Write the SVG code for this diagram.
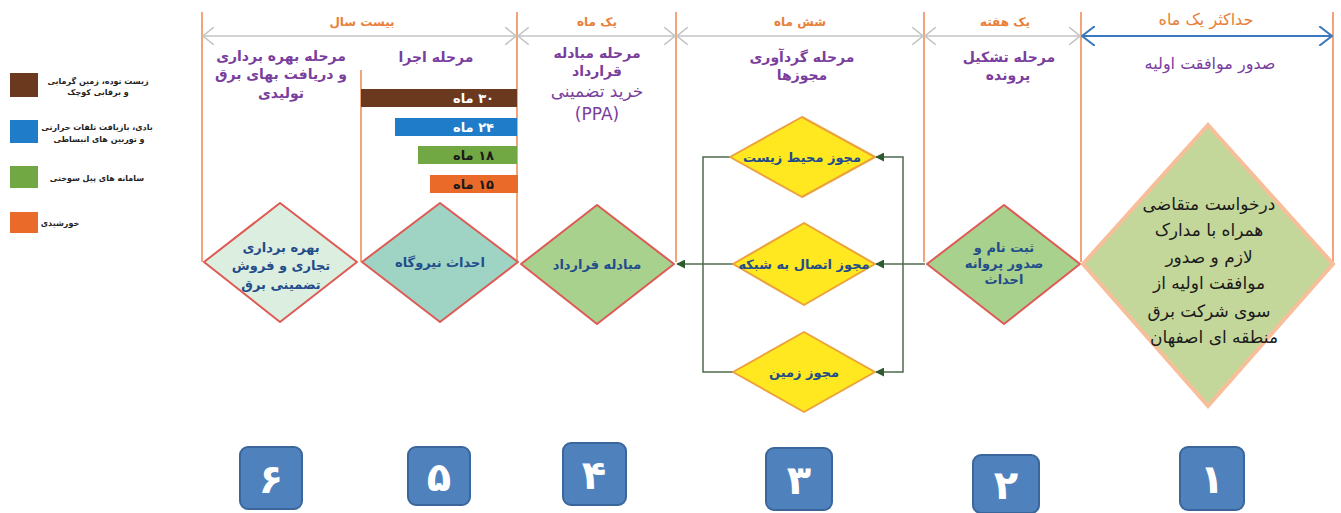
<svg xmlns="http://www.w3.org/2000/svg" width="1341" height="513" viewBox="0 0 1341 513">
<style>
text{font-family:"DejaVu Sans","Noto Sans",sans-serif;direction:rtl;text-anchor:middle}
.div{stroke:#F2A57A;stroke-width:2;fill:none}
.dim{stroke:#C4C4C4;stroke-width:1.5;fill:none}
.dimb{stroke:#3C78BE;stroke-width:2;fill:none}
.hdr{fill:#E8803A;font-size:12px;font-weight:bold}
.ttl{fill:#7A3E9D;font-size:14px;font-weight:bold}
.ttl2{fill:#7A3E9D;font-size:17px}
.dtx{fill:#234C8A;font-size:13px;font-weight:bold}
.leg{fill:#222;font-size:8px;font-weight:bold}
.bar{font-size:13px;font-weight:bold}
.con{stroke:#4E6B4E;stroke-width:1.5;fill:none}
.dia{stroke:#DD5A55;stroke-width:2;stroke-linejoin:round}
.ydia{fill:#FFE81F;stroke:#EBA23C;stroke-width:2;stroke-linejoin:round}
.num{fill:#4F81BD;stroke:#3A669C;stroke-width:2}
.numt{fill:#fff;font-size:40px;font-weight:bold}
</style>
<defs>
<marker id="chev" viewBox="0 0 12 18" refX="11" refY="9" markerWidth="12" markerHeight="18" markerUnits="userSpaceOnUse" orient="auto-start-reverse">
<path d="M0,0 L11,9 L0,18" fill="none" stroke="#C4C4C4" stroke-width="1.5"/>
</marker>
<marker id="chevb" viewBox="0 0 14 20" refX="13" refY="10" markerWidth="14" markerHeight="20" markerUnits="userSpaceOnUse" orient="auto-start-reverse">
<path d="M0,0 L13,10 L0,20" fill="none" stroke="#3C78BE" stroke-width="2"/>
</marker>
<marker id="tri" viewBox="0 0 10 10" refX="9" refY="5" markerWidth="9" markerHeight="9" markerUnits="userSpaceOnUse" orient="auto">
<path d="M0,0 L10,5 L0,10 Z" fill="#2F5A2F"/>
</marker>
</defs>
<rect width="1341" height="513" fill="#fff"/>

<g id="legend">
<rect x="10" y="73" width="28" height="24" fill="#6B3A1E"/>
<text class="leg" x="98" y="84">زیست توده، زمین گرمایی</text>
<text class="leg" x="98" y="95">و برقابی کوچک</text>
<rect x="10" y="120" width="28" height="23" fill="#1F7CC8"/>
<text class="leg" x="97" y="130">بادی، بازیافت تلفات حرارتی</text>
<text class="leg" x="99" y="142">و توربین های انبساطی</text>
<rect x="10" y="166" width="28" height="22" fill="#72A844"/>
<text class="leg" x="97" y="181">سامانه های پیل سوختی</text>
<rect x="10" y="212" width="28" height="21" fill="#EA6A2A"/>
<text class="leg" x="60" y="226">خورشیدی</text>
</g>

<g id="frame">
<line class="div" x1="202" y1="12" x2="202" y2="262"/>
<line class="div" x1="361" y1="70" x2="361" y2="262"/>
<line class="div" x1="517" y1="12" x2="517" y2="262"/>
<line class="div" x1="676" y1="12" x2="676" y2="262"/>
<line class="div" x1="924" y1="12" x2="924" y2="262"/>
<line class="div" x1="1081" y1="12" x2="1081" y2="262"/>
<line class="div" x1="1333" y1="12" x2="1333" y2="262"/>
<line class="dim" x1="203" y1="36" x2="516" y2="36" marker-start="url(#chev)" marker-end="url(#chev)"/>
<line class="dim" x1="518" y1="36" x2="675" y2="36" marker-start="url(#chev)" marker-end="url(#chev)"/>
<line class="dim" x1="677" y1="36" x2="923" y2="36" marker-start="url(#chev)" marker-end="url(#chev)"/>
<line class="dim" x1="925" y1="36" x2="1080" y2="36" marker-start="url(#chev)" marker-end="url(#chev)"/>
<line class="dimb" x1="1082" y1="36" x2="1332" y2="36" marker-start="url(#chevb)" marker-end="url(#chevb)"/>
<text class="hdr" x="362" y="26">بیست سال</text>
<text class="hdr" x="597" y="26">یک ماه</text>
<text class="hdr" x="800" y="26">شش ماه</text>
<text class="hdr" x="1005" y="26">یک هفته</text>
<text x="1206" y="25" style="fill:#E8803A;font-size:16px">حداکثر یک ماه</text>
</g>

<g id="titles">
<text class="ttl" x="281" y="61">مرحله بهره برداری</text>
<text class="ttl" x="281" y="79">و دریافت بهای برق</text>
<text class="ttl" x="281" y="98">تولیدی</text>
<text class="ttl" x="436" y="62">مرحله اجرا</text>
<text class="ttl" x="597" y="58">مرحله مبادله</text>
<text class="ttl" x="597" y="76">قرارداد</text>
<text class="ttl2" x="597" y="97">خرید تضمینی</text>
<text class="ttl2" x="597" y="120" style="direction:ltr">(PPA)</text>
<text class="ttl" x="802" y="62">مرحله گردآوری</text>
<text class="ttl" x="802" y="80">مجوزها</text>
<text class="ttl" x="1009" y="62">مرحله تشکیل</text>
<text class="ttl" x="1008" y="80">پرونده</text>
<text x="1210" y="69" style="fill:#7A3E9D;font-size:16px">صدور موافقت اولیه</text>
</g>

<g id="bars">
<rect x="361" y="89" width="156" height="18" fill="#6B3A1E"/>
<text class="bar" x="494" y="103" style="fill:#fff;text-anchor:start">۳۰ ماه</text>
<rect x="395" y="118" width="122" height="18" fill="#1F7CC8"/>
<text class="bar" x="494" y="132" style="fill:#fff;text-anchor:start">۲۴ ماه</text>
<rect x="418" y="146" width="99" height="18" fill="#72A844"/>
<text class="bar" x="494" y="160" style="fill:#1a1a1a;text-anchor:start">۱۸ ماه</text>
<rect x="430" y="175" width="88" height="18" fill="#EA6A2A"/>
<text class="bar" x="494" y="189" style="fill:#1a1a1a;text-anchor:start">۱۵ ماه</text>
</g>

<g id="connectors">
<line class="con" x1="925" y1="264" x2="876" y2="264" marker-end="url(#tri)"/>
<polyline class="con" points="903,264 903,157 876,157" marker-end="url(#tri)"/>
<polyline class="con" points="903,264 903,372 876,372" marker-end="url(#tri)"/>
<polyline class="con" points="730,157 703,157 703,372 733,372"/>
<line class="con" x1="733" y1="264" x2="677" y2="264" marker-end="url(#tri)"/>
</g>

<g id="n6"><path class="dia" d="M280,203 L357,262 L280,322 L204,262 Z" fill="#DCEEDF"/>
<text class="dtx" x="281" y="252">بهره برداری</text>
<text class="dtx" x="281" y="270">تجاری و فروش</text>
<text class="dtx" x="281" y="289">تضمینی برق</text></g>
<g id="n5"><path class="dia" d="M440,203 L518,262 L440,322 L362,262 Z" fill="#9FD4C4"/>
<text class="dtx" x="440" y="267">احداث نیروگاه</text></g>
<g id="n4"><path class="dia" d="M597,205 L674,264 L597,324 L521,264 Z" fill="#A9D18E"/>
<text class="dtx" x="597" y="269">مبادله قرارداد</text></g>
<g id="n3a"><path class="ydia" d="M802,117 L875,157 L802,197 L730,157 Z"/>
<text class="dtx" x="802" y="162">مجوز محیط زیست</text></g>
<g id="n3b"><path class="ydia" d="M804,223 L875,264 L804,305 L733,264 Z"/>
<text class="dtx" x="804" y="269">مجوز اتصال به شبکه</text></g>
<g id="n3c"><path class="ydia" d="M804,332 L875,372 L804,412 L733,372 Z"/>
<text class="dtx" x="804" y="377">مجوز زمین</text></g>
<g id="n2"><path class="dia" d="M1004,205 L1080,264 L1004,324 L927,264 Z" fill="#A9D18E"/>
<text class="dtx" x="1004" y="252">ثبت نام و</text>
<text class="dtx" x="1004" y="268">صدور پروانه</text>
<text class="dtx" x="1004" y="284">احداث</text></g>
<g id="n1"><path d="M1208,125 L1333,264 L1208,406 L1083,264 Z" fill="#C4D79B" stroke="#F7BE9A" stroke-width="4"/>
<g style="fill:#1a1a1a;font-size:17px">
<text x="1209" y="210">درخواست متقاضی</text>
<text x="1209" y="236">همراه با مدارک</text>
<text x="1209" y="263">لازم و صدور</text>
<text x="1209" y="289">موافقت اولیه از</text>
<text x="1209" y="317">سوی شرکت برق</text>
<text x="1214" y="343">منطقه ای اصفهان</text>
</g></g>

<g id="numbers">
<rect class="num" x="240" y="447" width="62" height="62" rx="8"/><text class="numt" x="271" y="493">۶</text>
<rect class="num" x="408" y="447" width="62" height="58" rx="8"/><text class="numt" x="439" y="491">۵</text>
<rect class="num" x="563" y="443" width="63" height="62" rx="8"/><text class="numt" x="594" y="489">۴</text>
<rect class="num" x="766" y="448" width="66" height="62" rx="8"/><text class="numt" x="799" y="494">۳</text>
<rect class="num" x="973" y="455" width="66" height="58" rx="8"/><text class="numt" x="1006" y="499">۲</text>
<rect class="num" x="1180" y="447" width="64" height="63" rx="8"/><text class="numt" x="1212" y="493">۱</text>
</g>
</svg>
